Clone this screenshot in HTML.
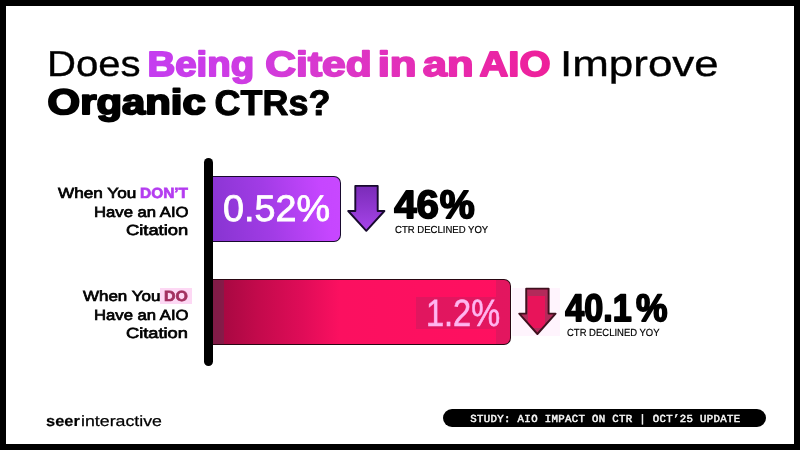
<!DOCTYPE html>
<html lang="en">
<head>
<meta charset="utf-8">
<title>Does Being Cited in an AIO Improve Organic CTRs?</title>
<style>
html,body{margin:0;padding:0;background:#000;}
body{width:800px;height:450px;overflow:hidden;position:relative;font-family:"Liberation Sans",Arial,Helvetica,sans-serif;}
#card{position:absolute;left:6px;top:6px;width:788px;height:438px;background:#fff;}
.t{text-rendering:geometricPrecision;position:absolute;white-space:nowrap;line-height:1;transform-origin:0 50%;margin:0;padding:0;}
.t b{font-weight:700;}
#axis{position:absolute;left:204px;top:158.4px;width:9px;height:208px;border-radius:4.5px;background:#000;}
#bar1{position:absolute;left:211px;top:176.2px;width:129.8px;height:66.2px;box-sizing:border-box;border:1.9px solid #180a2e;border-left:none;border-radius:0 7px 7px 0;background:linear-gradient(78deg,#8634d0 0%,#a23ce6 45%,#c646ff 85%,#c848ff 100%);}
#bar2{position:absolute;left:211px;top:279.4px;width:299.9px;height:65.8px;box-sizing:border-box;border:1.9px solid #2a0612;border-left:none;border-radius:0 7px 7px 0;background:linear-gradient(90deg,#9a0a40 0%,#a80842 4%,#c40a4c 16%,#e00c58 31%,#fb1060 43%,#ff1060 100%);overflow:hidden;}
#blk2{position:absolute;left:205px;top:16.6px;width:80px;height:32px;background:rgba(140,40,90,0.24);}
#blk3{position:absolute;left:285px;top:-2px;width:20px;height:70px;background:rgba(140,40,90,0.24);}
#blk4{position:absolute;left:0;top:-2px;width:13px;height:70px;background:rgba(90,50,80,0.45);}
#halo2{position:absolute;left:512px;top:288px;width:48px;height:48px;background:#fff4fd;}
#hl{position:absolute;left:160px;top:288px;width:32px;height:16px;background:#fdd8f4;}
#pill{position:absolute;left:443.4px;top:408.6px;width:323px;height:18.9px;border-radius:9.5px;background:#000;}
svg{position:absolute;left:0;top:0;overflow:visible;}
.ts text{font-family:"Liberation Sans",Arial,Helvetica,sans-serif;text-rendering:geometricPrecision;}
</style>
</head>
<body>
<div id="card"></div>
<div id="hl"></div>
<div id="bar1"></div>
<div id="bar2"><div id="blk2"></div><div id="blk3"></div><div id="blk4"></div></div>
<div id="halo2"></div>
<div id="axis"></div>
<svg width="800" height="450" viewBox="0 0 800 450">
<defs>
<linearGradient id="ga" x1="0" y1="0" x2="0" y2="1"><stop offset="0" stop-color="#7a2cb8"/><stop offset="1" stop-color="#a744ea"/></linearGradient>
</defs>
<path d="M355.3 185.9 H377.7 V211 H384.4 L366.3 230.8 L348.2 211 H355.3 Z" fill="url(#ga)" stroke="#180a2e" stroke-width="1.9" stroke-linejoin="round"/>
<clipPath id="ca2"><path d="M526.2 288.6 H548.6 V313.6 H555.6 L537.4 334 L519.2 313.6 H526.2 Z"/></clipPath>
<path d="M526.2 288.6 H548.6 V313.6 H555.6 L537.4 334 L519.2 313.6 H526.2 Z" fill="#b22a5a"/>
<rect x="528" y="296" width="17" height="32" fill="#e8145a" clip-path="url(#ca2)"/>
<path d="M526.2 288.6 H548.6 V313.6 H555.6 L537.4 334 L519.2 313.6 H526.2 Z" fill="none" stroke="#40101f" stroke-width="1.9" stroke-linejoin="round"/>
</svg>
<div id="pill"></div>
<div class="t" id="t1" style='left:46.93px;top:45.86px;font-size:36.12px;transform:scaleX(1.1102);font-weight:400;color:#000;-webkit-text-stroke:0.35px #000;'>Does</div>
<svg class="ts" id="t2a" width="800" height="450" viewBox="0 0 800 450"><defs><linearGradient id="gt2a" x1="0" y1="0" x2="1" y2="0"><stop offset="0.0" stop-color="#c43df0"/><stop offset="0.25" stop-color="#c73dec"/><stop offset="0.5" stop-color="#ca3ce9"/><stop offset="0.75" stop-color="#cd3ce5"/><stop offset="1.0" stop-color="#cf3ce1"/></linearGradient></defs><text transform="translate(147.47 75.72) scale(1.0924 1)" font-size="35.17" font-weight="700" fill="url(#gt2a)" stroke="url(#gt2a)" stroke-width="1.8" stroke-linejoin="round">Being</text></svg>
<svg class="ts" id="t2b" width="800" height="450" viewBox="0 0 800 450"><defs><linearGradient id="gt2b" x1="0" y1="0" x2="1" y2="0"><stop offset="0.0" stop-color="#d13bdd"/><stop offset="0.25" stop-color="#d53ad6"/><stop offset="0.5" stop-color="#d839cf"/><stop offset="0.75" stop-color="#dc36c8"/><stop offset="1.0" stop-color="#df33c1"/></linearGradient></defs><text transform="translate(265.34 75.72) scale(1.2116 1)" font-size="35.17" font-weight="700" fill="url(#gt2b)" stroke="url(#gt2b)" stroke-width="1.8" stroke-linejoin="round">Cited</text></svg>
<svg class="ts" id="t2c" width="800" height="450" viewBox="0 0 800 450"><defs><linearGradient id="gt2c" x1="0" y1="0" x2="1" y2="0"><stop offset="0.0" stop-color="#e032bf"/><stop offset="0.25" stop-color="#e131bd"/><stop offset="0.5" stop-color="#e230ba"/><stop offset="0.75" stop-color="#e32fb8"/><stop offset="1.0" stop-color="#e42eb6"/></linearGradient></defs><text transform="translate(377.68 75.72) scale(1.2466 1)" font-size="35.17" font-weight="700" fill="url(#gt2c)" stroke="url(#gt2c)" stroke-width="1.8" stroke-linejoin="round">in</text></svg>
<svg class="ts" id="t2d" width="800" height="450" viewBox="0 0 800 450"><defs><linearGradient id="gt2d" x1="0" y1="0" x2="1" y2="0"><stop offset="0.0" stop-color="#e52db4"/><stop offset="0.25" stop-color="#e62cb1"/><stop offset="0.5" stop-color="#e72aaf"/><stop offset="0.75" stop-color="#e829ac"/><stop offset="1.0" stop-color="#e928aa"/></linearGradient></defs><text transform="translate(422.86 75.72) scale(1.2385 1)" font-size="35.17" font-weight="700" fill="url(#gt2d)" stroke="url(#gt2d)" stroke-width="1.8" stroke-linejoin="round">an</text></svg>
<svg class="ts" id="t2e" width="800" height="450" viewBox="0 0 800 450"><defs><linearGradient id="gt2e" x1="0" y1="0" x2="1" y2="0"><stop offset="0.0" stop-color="#e927a8"/><stop offset="0.25" stop-color="#ea25a5"/><stop offset="0.5" stop-color="#ec24a1"/><stop offset="0.75" stop-color="#ed229e"/><stop offset="1.0" stop-color="#ee209a"/></linearGradient></defs><text transform="translate(479.52 75.72) scale(1.1345 1)" font-size="35.17" font-weight="700" fill="url(#gt2e)" stroke="url(#gt2e)" stroke-width="1.8" stroke-linejoin="round">AIO</text></svg>
<div class="t" id="t3" style='left:559.64px;top:45.86px;font-size:36.12px;transform:scaleX(1.2170);font-weight:400;color:#000;-webkit-text-stroke:0.35px #000;'>Improve</div>
<svg class="ts" id="t4" width="800" height="450" viewBox="0 0 800 450"><text transform="translate(47.60 114.20) scale(1.1848 1)" font-size="35.32" font-weight="700" fill="#000" stroke="#000" stroke-width="2.0" stroke-linejoin="round">Organic</text></svg>
<svg class="ts" id="t5" width="800" height="450" viewBox="0 0 800 450"><text transform="translate(214.62 114.70) scale(1.0101 1)" font-size="35.61" font-weight="700" fill="#000" stroke="#000" stroke-width="1.0" stroke-linejoin="round">CTRs?</text></svg>
<div class="t" id="l1a" style='left:58.15px;top:187.28px;font-size:14.68px;transform:scaleX(1.1702);font-weight:400;color:#000;-webkit-text-stroke:0.7px #000;'>When You</div>
<div class="t" id="l1b" style='left:139.64px;top:187.07px;font-size:14.68px;transform:scaleX(1.0509);font-weight:700;color:#b43cf0;-webkit-text-stroke:0.7px #b43cf0;'>DON&#8217;T</div>
<div class="t" id="l2" style='left:93.58px;top:206.28px;font-size:14.68px;transform:scaleX(1.1366);font-weight:400;color:#000;-webkit-text-stroke:0.7px #000;'>Have an AIO</div>
<div class="t" id="l3" style='left:125.79px;top:224.27px;font-size:14.68px;transform:scaleX(1.2497);font-weight:400;color:#000;-webkit-text-stroke:0.7px #000;'>Citation</div>
<div class="t" id="l4a" style='left:82.76px;top:290.03px;font-size:14.68px;transform:scaleX(1.1560);font-weight:400;color:#000;-webkit-text-stroke:0.7px #000;'>When You</div>
<div class="t" id="l4b" style='left:164.05px;top:289.95px;font-size:14.68px;transform:scaleX(1.0823);font-weight:700;color:#a2305f;-webkit-text-stroke:0.7px #a2305f;'>DO</div>
<div class="t" id="l5" style='left:93.90px;top:308.69px;font-size:14.68px;transform:scaleX(1.1359);font-weight:400;color:#000;-webkit-text-stroke:0.7px #000;'>Have an AIO</div>
<div class="t" id="l6" style='left:125.73px;top:327.20px;font-size:14.68px;transform:scaleX(1.2430);font-weight:400;color:#000;-webkit-text-stroke:0.7px #000;'>Citation</div>
<div class="t" id="v1" style='left:222.80px;top:190.67px;font-size:36.96px;transform:scaleX(1.0210);font-weight:400;color:#fff;-webkit-text-stroke:0.8px #fff;'>0.52%</div>
<svg class="ts" id="s1" width="800" height="450" viewBox="0 0 800 450"><text transform="translate(394.25 218.30) scale(1.0177 1)" font-size="39.54" font-weight="700" fill="#000" stroke="#000" stroke-width="1.8" stroke-linejoin="round">46</text></svg>
<svg class="ts" id="s1p" width="800" height="450" viewBox="0 0 800 450"><text transform="translate(439.66 218.17) scale(0.9945 1)" font-size="39.54" font-weight="700" fill="#000" stroke="#000" stroke-width="1.8" stroke-linejoin="round">%</text></svg>
<div class="t" id="c1" style='left:394.85px;top:225.69px;font-size:10.17px;transform:scaleX(0.9404);font-weight:400;color:#000;-webkit-text-stroke:0.2px #000;'>CTR DECLINED YOY</div>
<div class="t" id="v2" style='left:425.54px;top:296.03px;font-size:37.97px;transform:scaleX(0.8566);font-weight:400;color:#ffb6f0;-webkit-text-stroke:0.6px #ffb6f0;'>1.2%</div>
<svg class="ts" id="s2" width="800" height="450" viewBox="0 0 800 450"><text transform="translate(565.26 320.59) scale(0.8884 1)" font-size="38.40" font-weight="700" fill="#000" stroke="#000" stroke-width="1.8" stroke-linejoin="round">40.1</text></svg>
<svg class="ts" id="s2p" width="800" height="450" viewBox="0 0 800 450"><text transform="translate(635.89 321.07) scale(0.9233 1)" font-size="38.40" font-weight="700" fill="#000" stroke="#000" stroke-width="1.8" stroke-linejoin="round">%</text></svg>
<div class="t" id="c2" style='left:566.88px;top:328.60px;font-size:10.32px;transform:scaleX(0.9195);font-weight:400;color:#000;-webkit-text-stroke:0.2px #000;'>CTR DECLINED YOY</div>
<div class="t" id="lga" style='left:46.22px;top:415.05px;font-size:14.95px;transform:scaleX(1.0999);font-weight:700;color:#000;-webkit-text-stroke:0.2px #000;'>seer</div>
<div class="t" id="lgb" style='left:80.78px;top:414.92px;font-size:14.86px;transform:scaleX(1.1955);font-weight:400;color:#000;-webkit-text-stroke:0.25px #000;'>interactive</div>
<div class="t" id="pl" style='left:470.32px;top:415.05px;font-size:10.70px;transform:scaleX(1.0000);letter-spacing:0.344px;font-weight:400;color:#f6f6f6;-webkit-text-stroke:0.5px #f6f6f6;font-family:"Liberation Mono",monospace;'>STUDY: AIO IMPACT ON CTR | OCT&#8217;25 UPDATE</div>
</body>
</html>
